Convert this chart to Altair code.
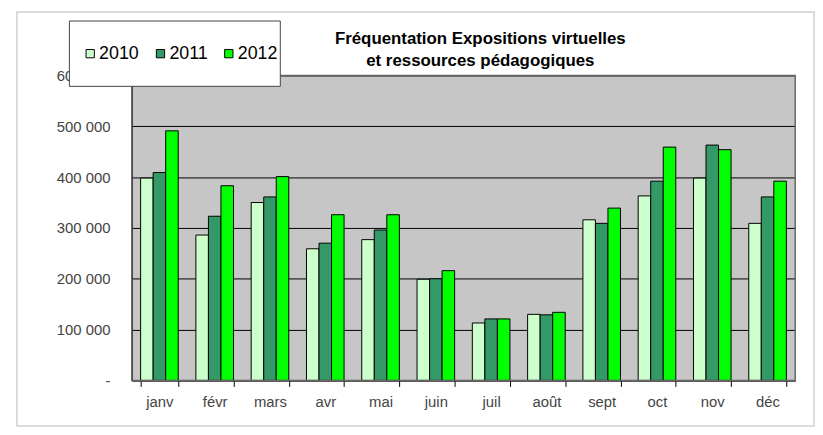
import altair as alt
import pandas as pd

months = ["janv", "févr", "mars", "avr", "mai", "juin", "juil", "août", "sept", "oct", "nov", "déc"]
v2010 = [398000, 286000, 350000, 259000, 277000, 199000, 113000, 130000, 316000, 363000, 398000, 309000]
v2011 = [409000, 323000, 361000, 270000, 296000, 200000, 121000, 129000, 309000, 392000, 463000, 361000]
v2012 = [491000, 383000, 401000, 326000, 326000, 216000, 121000, 134000, 339000, 459000, 454000, 392000]
years = ["2010", "2011", "2012"]
colors = ["#ccffcc", "#339966", "#00ff00"]
title_lines = ["Fréquentation Expositions virtuelles", "et ressources pédagogiques"]
y_ticks = [0, 100000, 200000, 300000, 400000, 500000, 600000]

rows = []
for yr, vals in zip(years, [v2010, v2011, v2012]):
    for m, v in zip(months, vals):
        rows.append({"mois": m, "annee": yr, "valeur": v})
df = pd.DataFrame(rows)

FONT = "Liberation Sans Narrow, Arial Narrow, Liberation Sans, Arial"

W, H = 670, 308
one = pd.DataFrame({"a": [0]})

frame = alt.Chart(one).mark_rect(
    fill="white", fillOpacity=0, stroke="#cfcfcf", strokeWidth=1.5
).encode(x=alt.value(-116), x2=alt.value(689), y=alt.value(-64), y2=alt.value(354))

border = alt.Chart(one).mark_rect(
    fill="white", fillOpacity=0, stroke="#666", strokeWidth=1.5
).encode(x=alt.value(0), x2=alt.value(W), y=alt.value(0), y2=alt.value(H))

bars = alt.Chart(df).mark_bar(stroke="black", strokeWidth=1).encode(
    x=alt.X("mois:N", sort=months,
            scale=alt.Scale(paddingInner=0.32, paddingOuter=0.16),
            axis=alt.Axis(title=None, labelAngle=0, tickBand="extent", ticks=True,
                          tickSize=6, tickColor="black", domainColor="black",
                          labelFont=FONT, labelFontSize=15, labelColor="#444",
                          labelPadding=8)),
    xOffset=alt.XOffset("annee:N", sort=years),
    y=alt.Y("valeur:Q", scale=alt.Scale(domain=[0, 600000], nice=False),
            axis=alt.Axis(title=None, values=y_ticks, ticks=False, labelPadding=22,
                          labelFont=FONT, labelFontSize=15, labelColor="#444",
                          domainColor="black", gridColor="black", gridOpacity=1,
                          gridWidth=1, zindex=0,
                          labelExpr="datum.value == 0 ? '-' : replace(format(datum.value, ',d'), /,/g, ' ')")),
    color=alt.Color("annee:N", sort=years,
                    scale=alt.Scale(domain=years, range=colors),
                    legend=alt.Legend(title=None, orient="none", direction="horizontal",
                                      legendX=-51, legendY=-31, padding=0,
                                      symbolType="square", symbolSize=70,
                                      symbolStrokeColor="black", symbolStrokeWidth=1,
                                      labelFont="Liberation Sans, Arial", labelFontSize=18,
                                      labelColor="black", labelOffset=0,
                                      columnPadding=12)),
)

legend_box = alt.Chart(one).mark_rect(
    fill="white", stroke="#444", strokeWidth=1
).encode(x=alt.value(-63), x2=alt.value(150), y=alt.value(-55), y2=alt.value(11))

title = alt.Chart(one).mark_text(
    text=title_lines, font="Liberation Sans, Arial", fontSize=17, fontWeight="bold",
    color="black", align="center", baseline="middle", lineHeight=22
).encode(x=alt.value(352), y=alt.value(-37))

chart = alt.layer(frame, bars, border, legend_box, title).properties(
    width=W, height=H,
    background="white",
    autosize=alt.AutoSizeParams(type="none"),
    padding={"left": 125, "top": 66, "right": 20, "bottom": 53},
).configure_view(fill="#c6c6c6", stroke=None)

chart.save("out.html", embed_options={"renderer": "svg", "actions": False})
